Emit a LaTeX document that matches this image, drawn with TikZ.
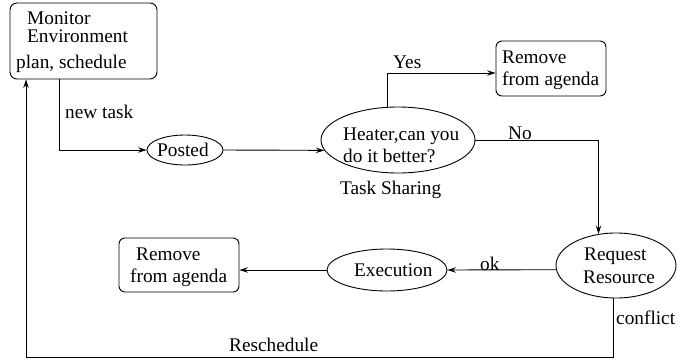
\documentclass[tikz,border=0pt]{standalone}
\usepackage{fontspec}
\setmainfont{Liberation Serif}
\usetikzlibrary{shapes.geometric,arrows.meta}
\begin{document}
\begin{tikzpicture}[x=1pt,y=-1pt,
  rbox/.style={draw,rounded corners=7pt,inner sep=0pt,line width=0.9pt},
  oval/.style={draw,ellipse,inner sep=0pt,line width=0.9pt},
  txt/.style={anchor=base west,inner sep=0pt,font=\fontsize{19.3}{22}\selectfont},
  arr/.style={line width=0.9pt,-{Stealth[length=8.5pt,width=5.5pt,inset=3pt]}},
  ln/.style={line width=0.9pt}]
\useasboundingbox (0,0) rectangle (678,360);
% shapes
\node[rbox,minimum width=147pt,minimum height=76pt] (mon) at (83.5,41) {};
\node[oval,minimum width=76pt,minimum height=30pt] (posted) at (185,150) {};
\node[oval,minimum width=154pt,minimum height=66pt] (heater) at (398,140) {};
\node[rbox,rounded corners=6pt,minimum width=110pt,minimum height=55pt] (rem1) at (551,68.5) {};
\node[oval,minimum width=120pt,minimum height=65pt] (req) at (616,265.5) {};
\node[oval,minimum width=120pt,minimum height=42pt] (exec) at (387,270) {};
\node[rbox,rounded corners=6pt,minimum width=120pt,minimum height=54pt] (rem2) at (179,265) {};
% texts
\node[txt] (t1) at (27,24) {Monitor};
\node[txt] (t2) at (27,42) {Environment};
\node[txt] (t3) at (16,68) {plan, schedule};
\node[txt] (t4) at (65,118) {new task};
\node[txt] (t5) at (157,156) {Posted};
\node[txt] (t6) at (343,140) {Heater,can you};
\node[txt] (t7) at (343,162) {do it better?};
\node[txt] (t8) at (340,194) {Task Sharing};
\node[txt] (t9) at (393,68) {Yes};
\node[txt] (t10) at (502,63) {Remove};
\node[txt] (t11) at (502,85) {from agenda};
\node[txt] (t12) at (508,139) {No};
\node[txt] (t13) at (584,260) {Request};
\node[txt] (t14) at (583,283) {Resource};
\node[txt] (t15) at (480,270) {ok};
\node[txt] (t16) at (354,276) {Execution};
\node[txt] (t17) at (136,260) {Remove};
\node[txt] (t18) at (130,282) {from agenda};
\node[txt] (t19) at (616,324) {conflict};
\node[txt] (t20) at (229,351) {Reschedule};
% connectors
\coordinate (resch) at (26,357);
\draw[arr] ([xshift=-24.5pt]mon.south) |- (posted.west);
\draw[arr] (posted.east) -- (heater.188);
\draw[arr] (heater.108) |- ([yshift=-4.5pt]rem1.west);
\draw[arr] (heater.east) -| (req.119);
\draw[arr] (req.184) -- (exec.east);
\draw[arr] (exec.west) -- (exec.west -| rem2.east);
\draw[arr] (req.266) |- (resch) -- (resch |- mon.south);
\end{tikzpicture}
\end{document}
